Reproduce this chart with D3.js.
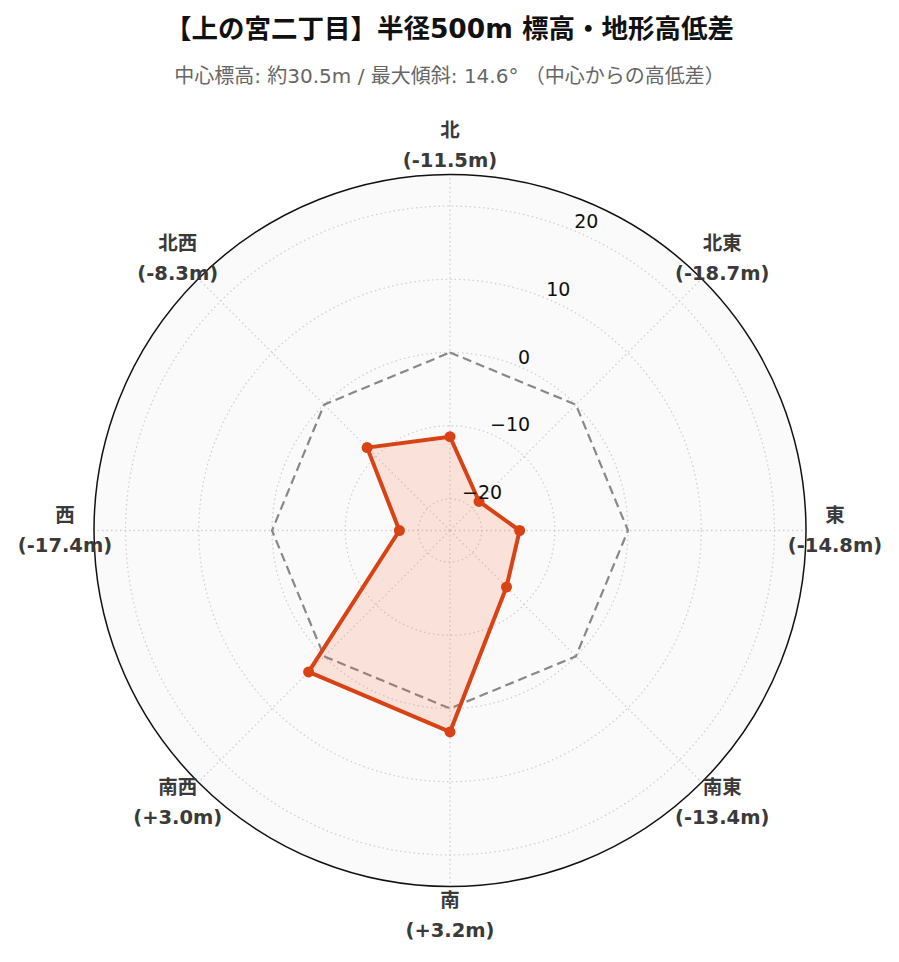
<!DOCTYPE html>
<html>
<head>
<meta charset="utf-8">
<script src="https://cdn.jsdelivr.net/npm/d3@7"></script>
<style>
  body { margin: 0; background: #fff; }
  text { font-family: "DejaVu Sans", "Noto Sans CJK JP", sans-serif; }
</style>
</head>
<body>
<div id="chart"></div>
<script>
const directions = ['北', '北東', '東', '南東', '南', '南西', '西', '北西'];
const diffs = [-11.5, -18.7, -14.8, -13.4, 3.2, 3.0, -17.4, -8.3];
const reference = [0, 0, 0, 0, 0, 0, 0, 0];
const radialTicks = [-20, -10, 0, 10, 20];
const rMax = 24.31;

const width = 899;
const height = 962;
const cx = 450, cy = 530.5, R = 356;

const svg = d3.select('#chart')
  .append('svg')
  .attr('width', width)
  .attr('height', height);

const r = d3.scaleLinear().domain([-rMax, rMax]).range([0, R]);
const a = d3.scaleLinear().domain([0, directions.length]).range([0, 2 * Math.PI]);

const px = (i, v) => cx + r(v) * Math.sin(a(i));
const py = (i, v) => cy - r(v) * Math.cos(a(i));

// title
svg.append('text')
  .attr('x', width / 2).attr('y', 28)
  .attr('text-anchor', 'middle').attr('dominant-baseline', 'central')
  .attr('font-size', 26.5).attr('font-weight', 'bold').attr('fill', '#111')
  .text('【上の宮二丁目】半径500m 標高・地形高低差');

svg.append('text')
  .attr('x', width / 2).attr('y', 76)
  .attr('text-anchor', 'middle').attr('dominant-baseline', 'central')
  .attr('font-size', 20).attr('fill', '#666')
  .text('中心標高: 約30.5m / 最大傾斜: 14.6° （中心からの高低差）');

// background
svg.append('circle')
  .attr('cx', cx).attr('cy', cy).attr('r', R)
  .attr('fill', '#fafafa');

// grid circles
svg.append('g')
  .selectAll('circle')
  .data(radialTicks)
  .join('circle')
    .attr('cx', cx).attr('cy', cy)
    .attr('r', d => r(d))
    .attr('fill', 'none')
    .attr('stroke', '#d0d0d0')
    .attr('stroke-width', 1.3)
    .attr('stroke-dasharray', '1.5,3');

// spokes
svg.append('g')
  .selectAll('line')
  .data(directions)
  .join('line')
    .attr('x1', cx).attr('y1', cy)
    .attr('x2', (d, i) => px(i, rMax))
    .attr('y2', (d, i) => py(i, rMax))
    .attr('stroke', '#d0d0d0')
    .attr('stroke-width', 1.3)
    .attr('stroke-dasharray', '1.5,3');

// outer circle
svg.append('circle')
  .attr('cx', cx).attr('cy', cy).attr('r', R)
  .attr('fill', 'none')
  .attr('stroke', '#111')
  .attr('stroke-width', 1.5);

const radial = d3.lineRadial()
  .angle((d, i) => a(i))
  .radius(d => r(d))
  .curve(d3.curveLinearClosed);

const plot = svg.append('g').attr('transform', `translate(${cx},${cy})`);

// reference (0m) line
plot.append('path')
  .attr('d', radial(reference))
  .attr('fill', 'none')
  .attr('stroke', '#888')
  .attr('stroke-width', 2.2)
  .attr('stroke-dasharray', '9,5');

// data polygon
plot.append('path')
  .attr('d', radial(diffs))
  .attr('fill', 'rgba(255,87,34,0.15)')
  .attr('stroke', '#d84315')
  .attr('stroke-width', 4)
  .attr('stroke-linejoin', 'round');

plot.append('g')
  .selectAll('circle')
  .data(diffs)
  .join('circle')
    .attr('cx', (d, i) => r(d) * Math.sin(a(i)))
    .attr('cy', (d, i) => -r(d) * Math.cos(a(i)))
    .attr('r', 5.5)
    .attr('fill', '#d84315');

// radial tick labels along 22.5deg
const tickAngle = Math.PI / 8;
svg.append('g')
  .selectAll('text')
  .data(radialTicks)
  .join('text')
    .attr('x', d => cx + r(d) * Math.sin(tickAngle))
    .attr('y', d => cy - r(d) * Math.cos(tickAngle) - 9.5)
    .attr('dominant-baseline', 'central')
    .attr('font-size', 19)
    .attr('fill', '#111')
    .text(d => d3.format('d')(d).replace('-', '−'));

// angular labels
const fmt = v => (v >= 0 ? '+' : '') + v.toFixed(1) + 'm';
const lab = svg.append('g')
  .selectAll('text')
  .data(directions)
  .join('text')
    .attr('text-anchor', 'middle')
    .attr('font-size', 19.5)
    .attr('font-weight', 'bold')
    .attr('fill', '#3a3a3a');

lab.append('tspan')
  .attr('x', (d, i) => cx + (R + 29) * Math.sin(a(i)))
  .attr('y', (d, i) => cy - (R + 29) * Math.cos(a(i)) - 15)
  .attr('dominant-baseline', 'central')
  .text(d => d);

lab.append('tspan')
  .attr('x', (d, i) => cx + (R + 29) * Math.sin(a(i)))
  .attr('y', (d, i) => cy - (R + 29) * Math.cos(a(i)) + 15)
  .attr('dominant-baseline', 'central')
  .text((d, i) => '(' + fmt(diffs[i]) + ')');
</script>
</body>
</html>
